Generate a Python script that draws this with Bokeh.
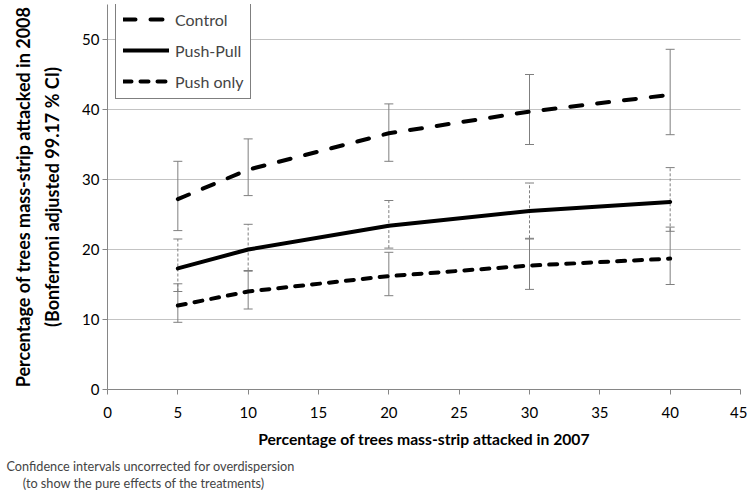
from bokeh.plotting import figure
from bokeh.models import (ColumnDataSource, Whisker, TeeHead, FixedTicker, Range1d,
                          Legend, LegendItem, Title)
from bokeh.embed import file_html
from bokeh.resources import INLINE

# ---- data ----
attacked_2007 = [5, 10, 20, 30, 40]

control = [27.2, 31.4, 36.6, 39.7, 42.1]
control_lo = [22.7, 27.7, 32.6, 35.0, 36.4]
control_hi = [32.6, 35.8, 40.8, 45.0, 48.6]

push_pull = [17.3, 20.0, 23.4, 25.5, 26.8]
push_pull_lo = [14.0, 17.0, 20.2, 21.6, 22.6]
push_pull_hi = [21.5, 23.6, 27.0, 29.5, 31.7]

push_only = [12.0, 14.0, 16.2, 17.7, 18.7]
push_only_lo = [9.6, 11.5, 13.4, 14.3, 15.0]
push_only_hi = [15.1, 16.9, 19.6, 21.5, 23.2]

series_names = ["Control", "Push-Pull", "Push only"]
x_ticks = [0, 5, 10, 15, 20, 25, 30, 35, 40, 45]
y_ticks = [0, 10, 20, 30, 40, 50]

x_title = "Percentage of trees mass-strip attacked in 2007"
y_title = "Percentage of trees mass-strip attacked in 2008\n(Bonferroni adjusted 99.17 % CI)"
note_1 = "Confidence intervals uncorrected for overdispersion"
note_2 = "(to show the pure effects of the treatments)"

FONT = "Lato"
GREY = "#868686"
BAR = "#7f7f7f"

p = figure(width=747, height=496, output_backend="svg", toolbar_location=None,
           x_range=Range1d(0, 45), y_range=Range1d(0, 55),
           min_border_left=107, min_border_right=7, min_border_top=4, min_border_bottom=106)
p.outline_line_color = None
p.background_fill_color = "white"
p.xgrid.visible = False
p.ygrid.grid_line_color = GREY
p.ygrid.grid_line_dash = "1 1"
p.ygrid.grid_line_width = 1

for ax in (p.xaxis[0], p.yaxis[0]):
    ax.axis_line_color = GREY
    ax.major_tick_line_color = GREY
    ax.minor_tick_line_color = None
    ax.major_tick_in = 0
    ax.major_tick_out = 5
    ax.major_label_text_font = FONT
    ax.major_label_text_font_size = "15px"
    ax.major_label_text_color = "black"
    ax.axis_label_text_font = FONT
    ax.axis_label_text_font_style = "bold"
    ax.axis_label_text_color = "black"

p.xaxis[0].ticker = FixedTicker(ticks=x_ticks)
p.yaxis[0].ticker = FixedTicker(ticks=y_ticks)
p.xaxis[0].major_label_standoff = 12
p.yaxis[0].major_label_standoff = 3
p.xaxis[0].axis_label = x_title
p.xaxis[0].axis_label_text_font_size = "15.7px"
p.xaxis[0].axis_label_standoff = 9
p.yaxis[0].axis_label = y_title
p.yaxis[0].axis_label_text_font_size = "18px"
p.yaxis[0].axis_label_text_line_height = 1.3
p.yaxis[0].axis_label_standoff = 16

# ---- error bars ----
def add_bars(lo, hi, dash):
    src = ColumnDataSource(dict(x=attacked_2007, lo=lo, hi=hi))
    w = Whisker(base="x", upper="hi", lower="lo", source=src,
                line_color=BAR, line_width=1, line_dash=dash, level="underlay",
                upper_head=TeeHead(size=9, line_color=BAR, line_width=1),
                lower_head=TeeHead(size=9, line_color=BAR, line_width=1))
    p.add_layout(w)

add_bars(control_lo, control_hi, "solid")
add_bars(push_pull_lo, push_pull_hi, "3 2")
add_bars(push_only_lo, push_only_hi, "solid")

# ---- lines ----
r1 = p.line(attacked_2007, control, line_color="black", line_width=4,
            line_dash="12 15", line_cap="round")
r2 = p.line(attacked_2007, push_pull, line_color="black", line_width=4, line_cap="round")
r3 = p.line(attacked_2007, push_only, line_color="black", line_width=4,
            line_dash="8 9", line_cap="round")

legend = Legend(items=[LegendItem(label=series_names[0], renderers=[r1]),
                       LegendItem(label=series_names[1], renderers=[r2]),
                       LegendItem(label=series_names[2], renderers=[r3])],
                location=(8, 386 - 96), margin=0, padding=7, spacing=11,
                glyph_width=46, glyph_height=20, label_height=20, label_standoff=6,
                label_text_font=FONT, label_text_font_size="16px",
                border_line_color="black", border_line_width=1,
                background_fill_color="white", background_fill_alpha=1)
p.add_layout(legend)

note = Title(text=note_1 + "\n" + "\u00a0" * 5 + note_2, align="left", offset=-101,
             text_font=FONT, text_font_size="12.7px", text_font_style="normal",
             text_line_height=1.12, standoff=10)
p.add_layout(note, "below")

open("out.html", "w").write(file_html(p, INLINE))
